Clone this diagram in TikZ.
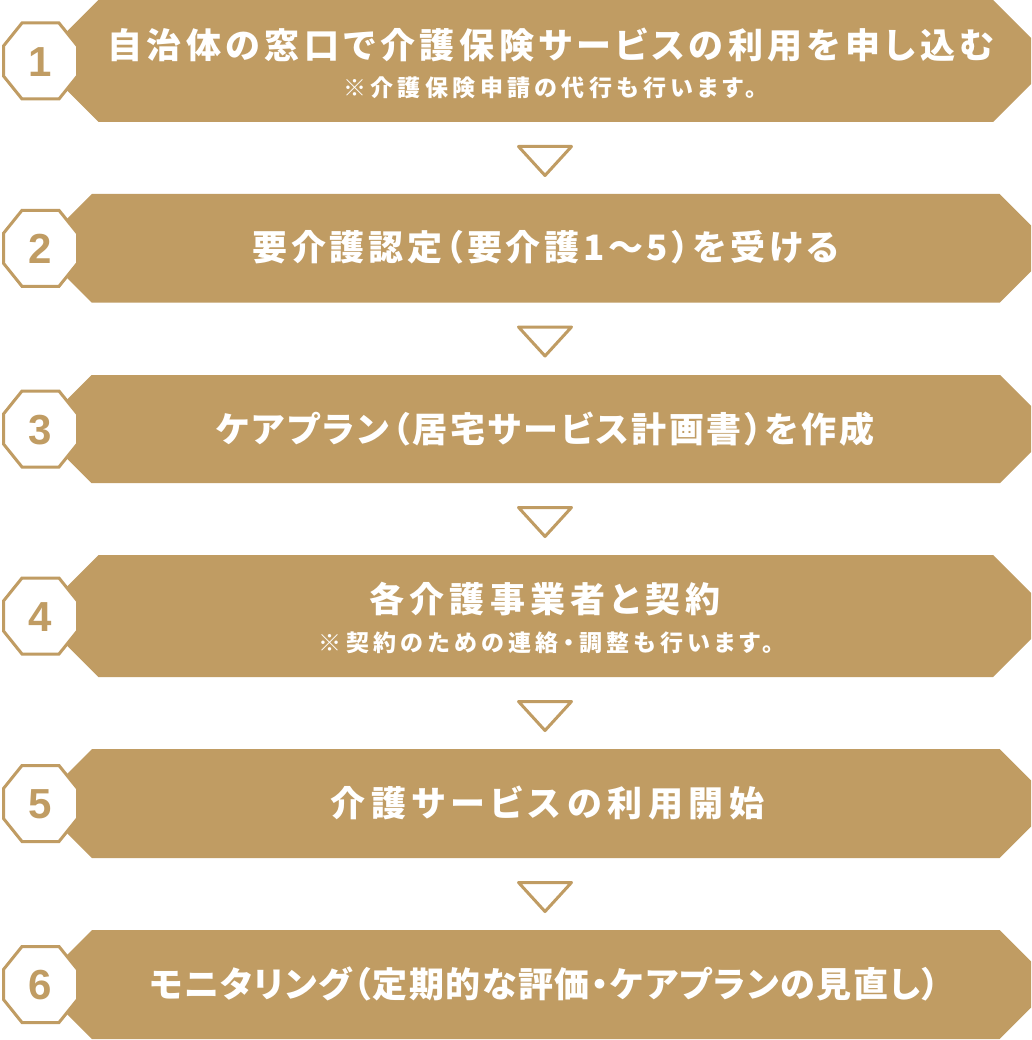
\documentclass[tikz,border=0pt]{standalone}
\usepackage{fontspec}
\newfontfamily\jpA[LetterSpace=13,RawFeature=+palt]{Noto Sans CJK JP}
\newfontfamily\jpB[LetterSpace=10.5,RawFeature=+palt]{Noto Sans CJK JP}
\newfontfamily\jpC[LetterSpace=8,RawFeature=+palt]{Noto Sans CJK JP}
\newfontfamily\jpD[LetterSpace=15,RawFeature=+palt]{Noto Sans CJK JP}
\newfontfamily\jpE[LetterSpace=16.5,RawFeature=+palt]{Noto Sans CJK JP}
\newfontfamily\jpF[LetterSpace=4.5,RawFeature=+palt]{Noto Sans CJK JP}
\newfontfamily\jpS[LetterSpace=19,RawFeature=+palt]{Noto Sans CJK JP}
\newfontfamily\numfont{Liberation Sans}
\definecolor{gold}{HTML}{C09C63}
\tikzset{
  banner/.style={fill=gold},
  octa/.style={draw=gold, line width=3pt, fill=white, line join=miter},
  numlabel/.style={inner sep=0pt, text=gold, font=\numfont\bfseries\fontsize{42}{42}\selectfont},
  maintext/.style={inner sep=0pt, text=white, font=#1\bfseries\fontsize{35}{35}\selectfont},
  subtext/.style={inner sep=0pt, text=white, font=\jpS\bfseries\fontsize{23}{23}\selectfont},
  downtri/.style={draw=gold, line width=3pt, line join=round}
}
\begin{document}
\begin{tikzpicture}[x=1pt,y=-1pt]
\useasboundingbox (0,0) rectangle (1031,1040);
\clip (0,0) rectangle (1031,1040);
\fill[white] (0,0) rectangle (1031,1040);
% banners with octagon badges
\foreach \c/\h/\n in {61/61/1, 248.3/54.3/2, 429/54/3, 616/61/4, 803.5/54.5/5, 984.5/54.5/6}{
  \fill[banner] (37.5,\c) -- (37.5+\h,\c-\h) -- (1054-\h,\c-\h) -- (1054,\c)
     -- (1054-\h,\c+\h) -- (37.5+\h,\c+\h) -- cycle;
  \draw[octa] (22,\c-38) -- (59,\c-38) -- (77.5,\c-15) -- (77.5,\c+15)
     -- (59,\c+38) -- (22,\c+38) -- (3.5,\c+15) -- (3.5,\c-15) -- cycle;
  \node[numlabel] (n\n) at (40.5,\c+1) {\n};
}
% down triangles
\foreach \g in {158, 338.5, 519, 713, 894}{
  \draw[downtri] (518.5,\g-11.5) -- (571.5,\g-11.5) -- (545,\g+17.5) -- cycle;
}
% texts
\node[maintext=\jpA] (t1) at (551,45) {自治体の窓口で介護保険サービスの利用を申し込む};
\node[subtext] (s1) at (550,88) {※介護保険申請の代行も行います。};
\node[maintext=\jpB] (t2) at (545.5,247) {要介護認定（要介護1〜5）を受ける};
\node[maintext=\jpC] (t3) at (545,429) {ケアプラン（居宅サービス計画書）を作成};
\node[maintext=\jpD] (t4) at (545,599.5) {各介護事業者と契約};
\node[subtext] (s4) at (546.5,642.5) {※契約のための連絡・調整も行います。};
\node[maintext=\jpE] (t5) at (547.5,803) {介護サービスの利用開始};
\node[maintext=\jpF] (t6) at (544.5,984) {モニタリング（定期的な評価・ケアプランの見直し）};
\end{tikzpicture}
\end{document}
